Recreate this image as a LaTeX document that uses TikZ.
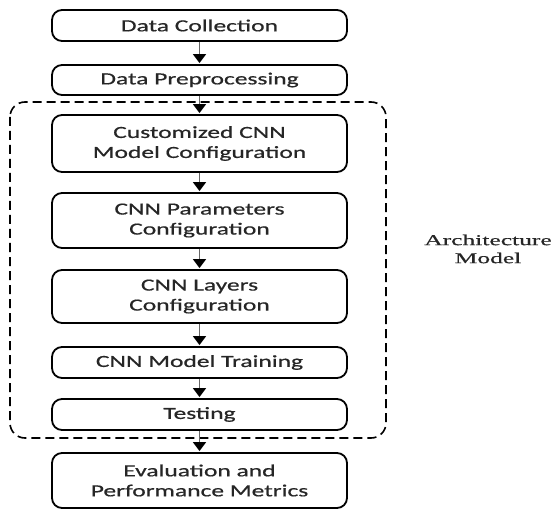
\documentclass[tikz,border=0pt]{standalone}
\usepackage{fontspec}
\usetikzlibrary{arrows.meta}
\newfontfamily\boxfont[FakeStretch=1.5,FakeBold=0.6]{Carlito}
\newfontfamily\labfont[FakeStretch=1.7,FakeBold=0.6]{Liberation Serif}
\begin{document}
\begin{tikzpicture}[x=1pt,y=-1pt,
  stepbox/.style={draw=black, line width=1.8pt, rounded corners=10pt,
    minimum width=295pt, align=center, inner sep=0pt,
    font=\boxfont\fontsize{17}{20}\selectfont, text=black!85},
  flow/.style={draw=black!60, line width=1.6pt, shorten >=1pt,
    -{Triangle[length=9pt,width=13pt,color=black]}},
  groupbox/.style={draw=black, line width=1.6pt, rounded corners=15pt,
    dash pattern=on 9pt off 5pt},
  grouplabel/.style={align=center, font=\labfont\fontsize{15}{18}\selectfont, text=black!85}
]
\useasboundingbox (0,0) rectangle (553,510);
\fill[white] (0,0) rectangle (553,510);

\draw[groupbox] (10,102) rectangle (386,438);

\node[stepbox, minimum height=31pt] (dc) at (199.5,25.5) {Data Collection};
\node[stepbox, minimum height=30pt] (dp) at (199.5,80) {Data Preprocessing};
\node[stepbox, minimum height=57pt] (cc) at (199.5,143.5) {Customized CNN\\Model Configuration};
\node[stepbox, minimum height=55pt] (cp) at (199.5,220.5) {CNN Parameters\\Configuration};
\node[stepbox, minimum height=53pt] (cl) at (199.5,296.5) {CNN Layers\\Configuration};
\node[stepbox, minimum height=31pt] (ct) at (199.5,362.5) {CNN Model Training};
\node[stepbox, minimum height=31pt] (te) at (199.5,414.5) {Testing};
\node[stepbox, minimum height=55pt] (ev) at (199.5,480.5) {Evaluation and\\Performance Metrics};

\node[grouplabel] (am) at (488,249) {Architecture\\Model};

\draw[flow] (dc) -- (dp);
\draw[flow] (dp) -- (cc);
\draw[flow] (cc) -- (cp);
\draw[flow] (cp) -- (cl);
\draw[flow] (cl) -- (ct);
\draw[flow] (ct) -- (te);
\draw[flow] (te) -- (ev);
\end{tikzpicture}
\end{document}
